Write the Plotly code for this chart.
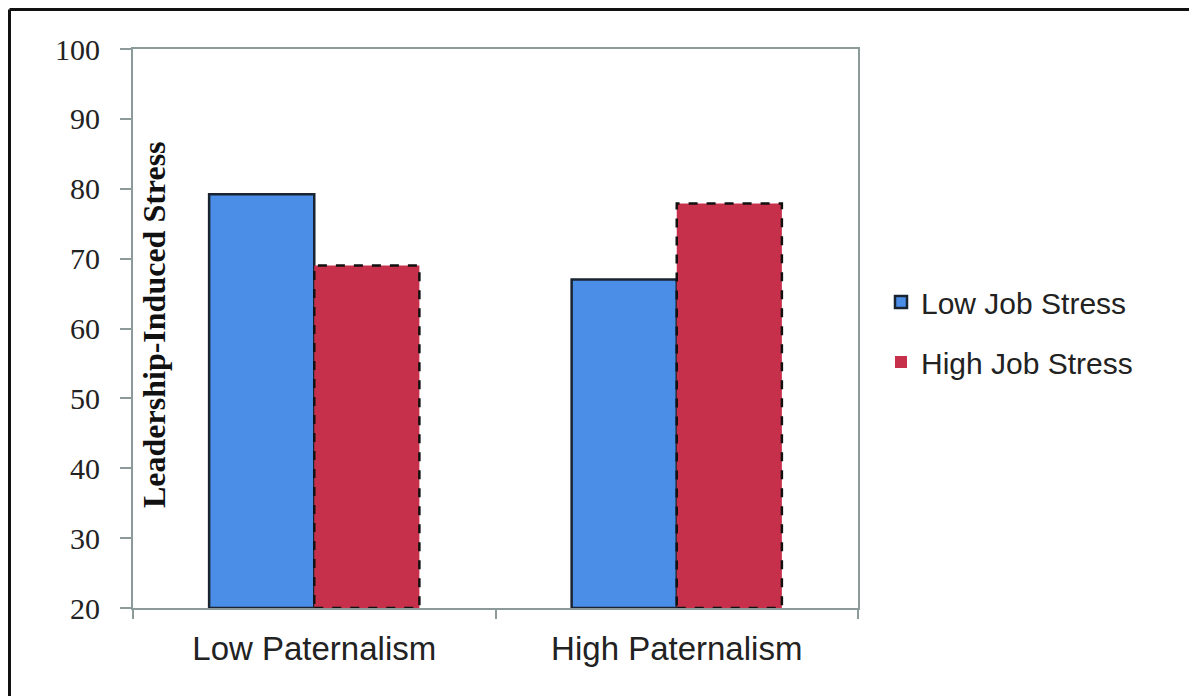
import plotly.graph_objects as go

categories = ["Low Paternalism", "High Paternalism"]
series_names = ["Low Job Stress", "High Job Stress"]
low_job_stress = [79.2, 67.0]
high_job_stress = [69.0, 77.9]
y_ticks = [20, 30, 40, 50, 60, 70, 80, 90, 100]

BLUE = "#4a8ee8"
RED = "#c6304a"
AXIS = "#8c9a9a"
Y_MIN = 20

# the page body has an 8px margin, so figure coords = screen coords - 8
OFF = 8
W, H = 1197, 696
L, T = 133 - OFF, 49 - OFF
R = W - (858 - OFF)
B = H - (608 - OFF)
PW, PH = W - L - R, H - T - B

fig = go.Figure()
fig.add_trace(go.Bar(
    x=categories, y=[v - Y_MIN for v in low_job_stress], base=Y_MIN,
    name=series_names[0], legendgroup="a",
    marker=dict(color=BLUE, line=dict(color="#1a2430", width=2.5)),
))
fig.add_trace(go.Bar(
    x=categories, y=[v - Y_MIN for v in high_job_stress], base=Y_MIN,
    name=series_names[1], legendgroup="b",
    marker=dict(color=RED, line=dict(color=RED, width=0)),
))

bargap = 0.42
bw = (1 - bargap) / 2
for i, v in enumerate(high_job_stress):
    fig.add_shape(type="rect", xref="x", yref="y",
                  x0=i, x1=i + bw, y0=Y_MIN, y1=v,
                  line=dict(color="#111111", width=2.5, dash="dash"),
                  fillcolor="rgba(0,0,0,0)", layer="above")

# outer frame (top and left edges visible)
fx0 = (1.5 - L) / PW
fy1 = 1 + (T - 1.5) / PH
fig.add_shape(type="line", xref="paper", yref="paper", x0=fx0, x1=(W + 20 - L) / PW,
              y0=fy1, y1=fy1, line=dict(color="#111111", width=3))
fig.add_shape(type="line", xref="paper", yref="paper", x0=fx0, x1=fx0,
              y0=fy1, y1=-(B + 20) / PH, line=dict(color="#111111", width=3))

fig.add_annotation(text="<b>Leadership-Induced Stress</b>", xref="paper", yref="paper",
                   x=(134 - OFF - L) / PW, y=(608 - 325) / PH,
                   textangle=-90, showarrow=False,
                   font=dict(family="Liberation Serif", size=32, color="#111111"))

fig.update_layout(
    width=W, height=H,
    margin=dict(l=L, r=R, t=T, b=B),
    paper_bgcolor="white", plot_bgcolor="white",
    barmode="group", bargap=bargap, bargroupgap=0,
    showlegend=True,
    legend=dict(x=(881 - OFF - L) / PW, xanchor="left",
                y=(608 - 332) / PH, yanchor="middle",
                font=dict(family="Liberation Sans", size=30, color="#222222"),
                tracegroupgap=18, itemwidth=30, bgcolor="rgba(0,0,0,0)"),
    xaxis=dict(type="category", tickson="boundaries", ticks="outside", ticklen=9,
               tickcolor=AXIS, tickwidth=2, showline=True, linecolor=AXIS, linewidth=2,
               mirror=True, showgrid=False, ticklabelstandoff=10,
               tickfont=dict(family="Liberation Sans", size=33, color="#222222")),
    yaxis=dict(range=[20, 100], tickvals=y_ticks, ticks="outside", ticklen=11,
               tickcolor=AXIS, tickwidth=2, showline=True, linecolor=AXIS, linewidth=2,
               mirror=True, showgrid=False, zeroline=False, ticklabelstandoff=14,
               tickfont=dict(family="Liberation Serif", size=30, color="#222222")),
)

fig.write_html("out.html")
